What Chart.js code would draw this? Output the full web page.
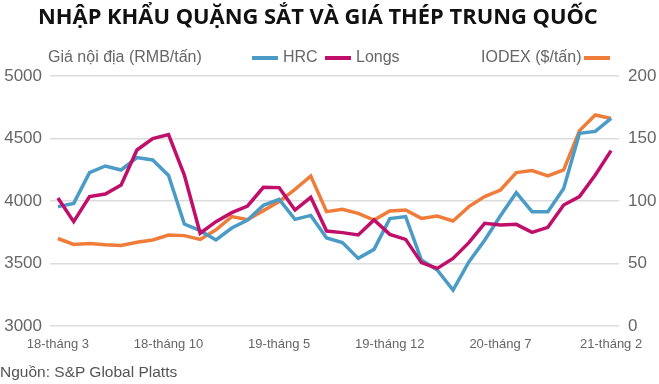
<!DOCTYPE html>
<html>
<head>
<meta charset="utf-8">
<script src="https://cdn.jsdelivr.net/npm/chart.js@4"></script>
<style>
  body { margin: 0; background: #fff; }
  #wrap { position: relative; width: 659px; height: 384px; overflow: hidden; font-family: "Liberation Sans", Arial, sans-serif; }
  #myChart { position: absolute; left: 0; top: 0; }
  .txt { position: absolute; white-space: nowrap; color: #666; font-size: 16px; line-height: 18px; }
  #title { position: absolute; left: 38px; top: 0px; font-family: "Open Sans", "DejaVu Sans"; font-weight: bold; font-size: 22px; line-height: 30px; color: #111; white-space: nowrap; transform-origin: 0 0; }
  .key { position: absolute; height: 4px; width: 26px; }
</style>
</head>
<body>
<div id="wrap">
  <canvas id="myChart" width="659" height="384"></canvas>
  <div id="title">NHẬP KHẨU QUẶNG SẮT VÀ GIÁ THÉP TRUNG QUỐC</div>
  <div class="txt" style="left:48px; top:48px;">Giá nội địa (RMB/tấn)</div>
  <div class="key" style="left:252px; top:56px; background:#4a9bc6;"></div>
  <div class="txt" style="left:283px; top:48px;">HRC</div>
  <div class="key" style="left:325px; top:56px; background:#bf0f6b;"></div>
  <div class="txt" style="left:356px; top:48px;">Longs</div>
  <div class="txt" style="left:481px; top:48px;">IODEX ($/tấn)</div>
  <div class="key" style="left:584px; top:56px; background:#f07c3a;"></div>
  <div class="txt" style="left:0px; top:363px; font-size:15.5px; color:#555;">Nguồn: S&amp;P Global Platts</div>
</div>
<script>
// fit the title to the reference width
const titleEl = document.getElementById('title');
titleEl.style.transform = 'scaleX(' + (560 / titleEl.offsetWidth) + ')';

const months = [
    '18-tháng 3', '18-tháng 4', '18-tháng 5', '18-tháng 6', '18-tháng 7', '18-tháng 8', '18-tháng 9', '18-tháng 10', '18-tháng 11', '18-tháng 12',
    '19-tháng 1', '19-tháng 2', '19-tháng 3', '19-tháng 4', '19-tháng 5', '19-tháng 6', '19-tháng 7', '19-tháng 8', '19-tháng 9', '19-tháng 10', '19-tháng 11', '19-tháng 12',
    '20-tháng 1', '20-tháng 2', '20-tháng 3', '20-tháng 4', '20-tháng 5', '20-tháng 6', '20-tháng 7', '20-tháng 8', '20-tháng 9', '20-tháng 10', '20-tháng 11', '20-tháng 12',
    '21-tháng 1', '21-tháng 2'
];
const shownMonths = ['18-tháng 3', '18-tháng 10', '19-tháng 5', '19-tháng 12', '20-tháng 7', '21-tháng 2'];

// RMB/tấn, left axis
const hrc = [3955, 3981, 4227, 4280, 4248, 4347, 4328, 4205, 3816, 3763, 3688, 3784, 3848, 3965, 4013, 3853, 3885, 3704,
    3667, 3541, 3613, 3859, 3875, 3528, 3448, 3288, 3512, 3686, 3882, 4066, 3915, 3915, 4101, 4541, 4557, 4661];
const longs = [4024, 3835, 4035, 4056, 4128, 4408, 4499, 4531, 4208, 3742, 3835, 3907, 3960, 4109, 4107, 3928, 4029, 3760,
    3747, 3728, 3848, 3733, 3693, 3507, 3461, 3541, 3667, 3821, 3808, 3813, 3749, 3789, 3968, 4035, 4208, 4403];
// $/tấn, right axis
const iodex = [70, 65.3, 66, 65, 64.5, 67, 68.8, 72.8, 72.3, 69.3, 77, 87.5, 85, 92.3, 99.5, 109.3, 120, 91.5,
    93.3, 90.1, 84.8, 92, 92.8, 86.1, 88, 84, 95.5, 103.5, 108.8, 122.7, 124.3, 120, 124.8, 156.3, 168.8, 166];

const leftTicks = [3000, 3500, 4000, 4500, 5000];
const rightTicks = [0, 50, 100, 150, 200];

Chart.defaults.font.family = '"Liberation Sans", Arial, sans-serif';

const ctx = document.getElementById('myChart');

new Chart(ctx, {
    type: 'line',
    data: {
        labels: months,
        datasets: [
            { label: 'Longs', data: longs, borderColor: '#bf0f6b', yAxisID: 'y' },
            { label: 'HRC', data: hrc, borderColor: '#4a9bc6', yAxisID: 'y' },
            { label: 'IODEX', data: iodex, borderColor: '#f07c3a', yAxisID: 'y1' }
        ]
    },
    options: {
        responsive: false,
        devicePixelRatio: 1,
        animation: false,
        layout: { padding: { top: 76, left: 0, right: 0, bottom: 0 } },
        elements: {
            line: { borderWidth: 3.5, tension: 0, fill: false },
            point: { radius: 0, hoverRadius: 0 }
        },
        plugins: {
            legend: { display: false },
            tooltip: { enabled: false }
        },
        scales: {
            x: {
                offset: true,
                grid: { display: false, drawTicks: false },
                border: { display: false },
                ticks: {
                    autoSkip: false,
                    maxRotation: 0,
                    padding: 11,
                    color: '#666',
                    font: { size: 13 },
                    callback: function (v, i) {
                        const lab = months[i];
                        return shownMonths.includes(lab) ? lab : '';
                    }
                },
                afterFit: function (s) { s.height = 58; }
            },
            y: {
                position: 'left',
                min: leftTicks[0],
                max: leftTicks[leftTicks.length - 1],
                grid: { color: '#dcdcdc', lineWidth: 1.5, drawTicks: false },
                border: { display: false },
                ticks: {
                    stepSize: 500, padding: 8, color: '#666', font: { size: 17 },
                    callback: function (v) { return String(v); }
                },
                afterFit: function (s) { s.width = 50; }
            },
            y1: {
                position: 'right',
                min: rightTicks[0],
                max: rightTicks[rightTicks.length - 1],
                grid: { display: false, drawTicks: false },
                border: { display: false },
                ticks: { stepSize: 50, padding: 9, color: '#666', font: { size: 17 } },
                afterFit: function (s) { s.width = 40; }
            }
        }
    }
});
</script>
</body>
</html>
